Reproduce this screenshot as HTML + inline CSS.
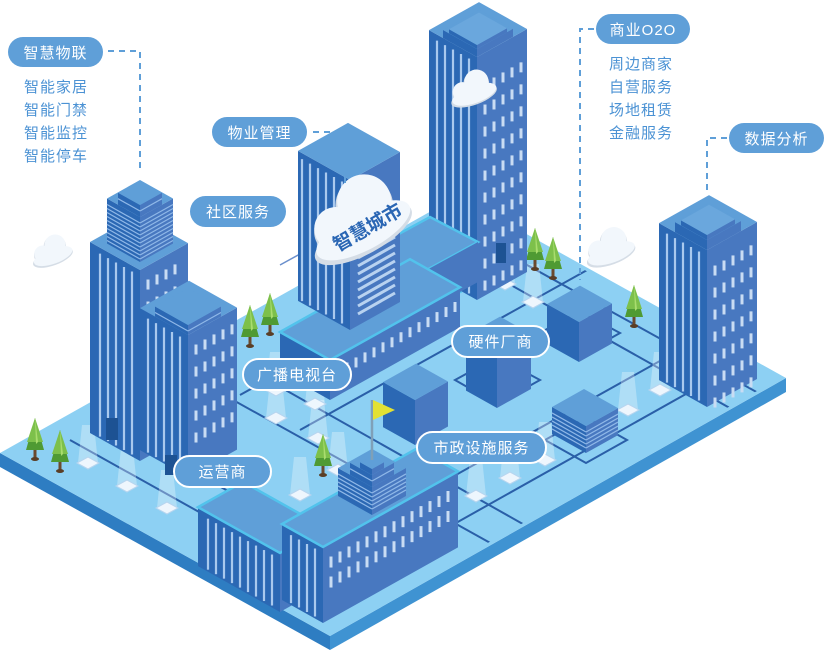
<!DOCTYPE html>
<html><head><meta charset="utf-8">
<style>
html,body{margin:0;padding:0;background:#fff;}
#c{position:relative;width:828px;height:651px;overflow:hidden;font-family:"Liberation Sans","Noto Sans CJK SC",sans-serif;}
.pill{position:absolute;background:#5f9fd8;color:#fff;border-radius:17px;font-size:15px;display:flex;align-items:center;justify-content:center;box-sizing:border-box;letter-spacing:1px;}
.pw{border:2px solid #fff;}
.list{position:absolute;color:#4b92d4;font-size:15px;line-height:23px;letter-spacing:1px;}
svg{position:absolute;left:0;top:0;}
</style></head><body>
<div id="c">
<svg id="s" width="828" height="651" viewBox="0 0 828 651"></svg>
<div class="pill" style="left:8px;top:37px;width:95px;height:30px;">智慧物联</div>
<div class="list" style="left:24px;top:76px;">智能家居<br>智能门禁<br>智能监控<br>智能停车</div>
<div class="pill" style="left:212px;top:117px;width:95px;height:30px;">物业管理</div>
<div class="pill" style="left:190px;top:196px;width:96px;height:31px;">社区服务</div>
<div class="pill" style="left:596px;top:14px;width:94px;height:30px;">商业O2O</div>
<div class="list" style="left:609px;top:53px;">周边商家<br>自营服务<br>场地租赁<br>金融服务</div>
<div class="pill" style="left:729px;top:123px;width:95px;height:30px;">数据分析</div>
<div class="pill pw" style="left:242px;top:358px;width:110px;height:33px;">广播电视台</div>
<div class="pill pw" style="left:173px;top:455px;width:99px;height:33px;">运营商</div>
<div class="pill pw" style="left:451px;top:325px;width:99px;height:33px;">硬件厂商</div>
<div class="pill pw" style="left:416px;top:431px;width:131px;height:33px;">市政设施服务</div>
</div>
<script>
var k=0.56,o=[];
function P(a){return a.map(function(p){return p[0].toFixed(1)+','+p[1].toFixed(1)}).join(' ');}
function poly(a,f,extra){o.push('<polygon points="'+P(a)+'" fill="'+f+'" '+(extra||'')+'/>');}
function line(x1,y1,x2,y2,c,w,extra){o.push('<line x1="'+x1+'" y1="'+y1+'" x2="'+x2+'" y2="'+y2+'" stroke="'+c+'" stroke-width="'+w+'" '+(extra||'')+'/>');}
function box(fx,fy,a,b,h,opt){
 opt=opt||{};
 var F=[fx,fy],R=[fx+a,fy-k*a],L=[fx-b,fy-k*b];
 var F2=[fx,fy-h],R2=[fx+a,fy-k*a-h],L2=[fx-b,fy-k*b-h],T2=[fx+a-b,fy-k*(a+b)-h];
 poly([L,F,F2,L2],opt.lc||'#2b68b4');
 poly([F,R,R2,F2],opt.rc||'#4878c0');
 poly([L2,F2,R2,T2],opt.tc||'#5f9fd8',opt.edge?'stroke="#52c3ec" stroke-width="2.5"':'');
 if(opt.stripes){var st=opt.stripes;for(var t=st;t<b-2;t+=st){line(fx-t,fy-k*t-h+6,fx-t,fy-k*t-2,'#a9c9ee',2.2);}}
 if(opt.hstripes){for(var y=6;y<h-2;y+=4){line(fx-b,fy-k*b-h+y,fx,fy-h+y,'#8fb8e8',1.2);line(fx,fy-h+y,fx+a,fy-k*a-h+y,'#8fb8e8',1.2);}}
 if(opt.win){var w=opt.win;for(var t=8;t<a-4;t+=w.dx){for(var r=0;r<w.rows;r++){var y0=fy-k*t-h+w.top+r*w.dy;line(fx+t,y0,fx+t,y0+w.len,'#c9dcf3',3);}}}
}
function tree(x,y,s){s=s||1;
 o.push('<rect x="'+(x-1.5)+'" y="'+(y-8)+'" width="3" height="10" fill="#6b4a2e"/>');
 o.push('<ellipse cx="'+x+'" cy="'+(y+1)+'" rx="4" ry="2" fill="#5a3e26"/>');
 poly([[x-9*s,y-8],[x+9*s,y-8],[x,y-40*s]],'#4f9a33');
 poly([[x-8*s,y-16],[x+8*s,y-16],[x,y-40*s]],'#7dc04b');
 poly([[x,y-40*s],[x+3,y-16],[x+1,y-14]],'#a9dc6e');
}
function lamp(x,y){
 poly([[x-6,y-38],[x+6,y-38],[x+10,y],[x-10,y]],'rgba(255,255,255,0.3)');
 poly([[x-11,y],[x,y-6],[x+11,y],[x,y+6]],'#eef6fd','stroke="#b7d5ef" stroke-width="1"');
}
function cloud(x,y,s,rot){
 o.push('<g transform="translate('+x+','+y+') rotate('+(rot||0)+') scale('+s+')">'+
 '<ellipse cx="0" cy="4" rx="30" ry="11" fill="#d5dde6"/><circle cx="-12" cy="-4" r="13" fill="#d5dde6"/><circle cx="8" cy="-10" r="16" fill="#d5dde6"/>'+
 '<ellipse cx="1" cy="2" rx="29" ry="11" fill="#f2f7fc"/><circle cx="-12" cy="-6" r="12" fill="#f2f7fc"/><circle cx="9" cy="-12" r="15" fill="#f2f7fc"/></g>');
}
o.push('<defs><clipPath id="pc"><polygon points="4,453 458,200 780,378 330,632"/></clipPath></defs>');
// platform
poly([[0,453],[330,636],[330,650],[0,467]],'#2e7dc2');
poly([[330,636],[786,378],[786,392],[330,650]],'#3f93d2');
poly([[0,453],[458,196],[786,378],[330,636]],'#8dd0f3');
// roads
var rc='#2a5fa8';
o.push('<g clip-path="url(#pc)">');
line(70,440,330,585,rc,2);line(100,420,320,542,rc,2);
line(215,390,530,565,rc,2);line(250,370,560,545,rc,2);
line(390,560,800,330,rc,2);line(420,495,760,305,rc,2);
line(300,430,650,235,rc,2);line(240,395,560,218,rc,2);
line(470,262,760,425,rc,2);line(500,250,780,405,rc,2);
o.push('</g>');
line(280,265,340,232,'#6a8fcc',1.5);
// pads
poly([[455,380],[497,357],[540,380],[497,404]],'none','stroke="'+rc+'" stroke-width="2"');
poly([[540,333],[579,311],[620,333],[579,356]],'none','stroke="'+rc+'" stroke-width="2"');
poly([[545,440],[586,417],[627,440],[586,463]],'none','stroke="'+rc+'" stroke-width="2"');
// lamps
[[88,463],[127,486],[167,508],[276,418],[318,438],[505,284],[533,302],[276,390],[315,404],[300,495],[338,470],[476,496],[510,478],[545,460],[628,410],[660,390]].forEach(function(p){lamp(p[0],p[1]);});
// trees back
tree(535,268);tree(553,277);tree(634,325);tree(250,345);tree(270,333);
// center tall tower
box(477,300,50,48,243,{stripes:8,win:{dx:9,rows:10,top:30,dy:22,len:10}});
box(477,57,36,34,8,{});
box(477,49,30,28,4,{tc:'#6aa7dd'});
o.push('<rect x="496" y="243" width="10" height="20" fill="#1d5293"/>');
cloud(473,93,0.8,-20);
// 智慧城市 complex lower
poly([[375,247],[430,217],[478,242],[423,272],[460,292],[405,322]],'#5f9fd8','stroke="#52c3ec" stroke-width="2.5"');
poly([[423,272],[478,242],[478,282],[460,292]],'#4878c0');
box(330,400,130,50,40,{win:{dx:9,rows:1,top:12,dy:0,len:10},edge:true});
// tall 智慧城市 tower
box(350,330,50,52,150,{stripes:8});
for(var i=0;i<9;i++){line(358,250+i*8,395,229+i*8,'#b8d2f0',3);}
cloud(360,228,1.8,-28);
o.push('<text x="0" y="0" transform="translate(338,252) rotate(-30)" font-family="Liberation Sans,Noto Sans CJK SC,sans-serif" font-size="19" font-weight="bold" fill="#2a66b4">智慧城市</text>');
// right tower
box(707,407,50,48,157,{stripes:8,win:{dx:9,rows:7,top:20,dy:22,len:10}});
box(707,250,34,32,10,{});
box(707,240,28,26,5,{tc:'#6aa7dd'});
cloud(610,252,0.85,-20);
// left tower
box(140,461,48,50,191,{stripes:8,win:{dx:9,rows:2,top:14,dy:22,len:10}});
o.push('<rect x="106" y="418" width="12" height="22" fill="#1d5293"/>');
box(140,262,33,33,45,{hstripes:true});
box(140,217,22,22,12,{hstripes:true});
cloud(52,255,0.7,-20);
// cubes
box(579,362,33,32,40,{});
box(497,408,34,31,55,{});
box(415,445,33,32,45,{});
box(586,453,32,34,27,{hstripes:true});
// building 2
box(188,477,49,48,142,{stripes:8,win:{dx:9,rows:5,top:14,dy:22,len:10}});
box(188,335,33,33,10,{hstripes:true});
o.push('<rect x="165" y="455" width="12" height="20" fill="#1d5293"/>');
// front trees
tree(35,458);tree(60,470);tree(323,474);
// front building wing
box(280,612,45,82,59,{stripes:8,edge:true});
// main front building
box(323,623,135,41,76,{stripes:8,win:{dx:9,rows:2,top:14,dy:20,len:11},edge:true});
// stepped pyramid
box(372,515,34,34,28,{hstripes:true});
box(372,487,22,22,12,{hstripes:true});
box(372,475,12,12,6,{});
line(372,460,372,400,'#7fa0b8',2.5);
poly([[373,400],[395,410],[373,420]],'#e2e134');
// dashed connectors
var dc='stroke-dasharray="6,5"';
o.push('<polyline points="108,51 140,51 140,168" fill="none" stroke="#5f9fd8" stroke-width="2" '+dc+'/>');
o.push('<polyline points="313,132 345,132 345,185" fill="none" stroke="#5f9fd8" stroke-width="2" '+dc+'/>');
o.push('<polyline points="594,29 580,29 580,280" fill="none" stroke="#5f9fd8" stroke-width="2" '+dc+'/>');
o.push('<polyline points="727,138 707,138 707,195" fill="none" stroke="#5f9fd8" stroke-width="2" '+dc+'/>');
document.getElementById('s').innerHTML=o.join('');
</script>
</body></html>
